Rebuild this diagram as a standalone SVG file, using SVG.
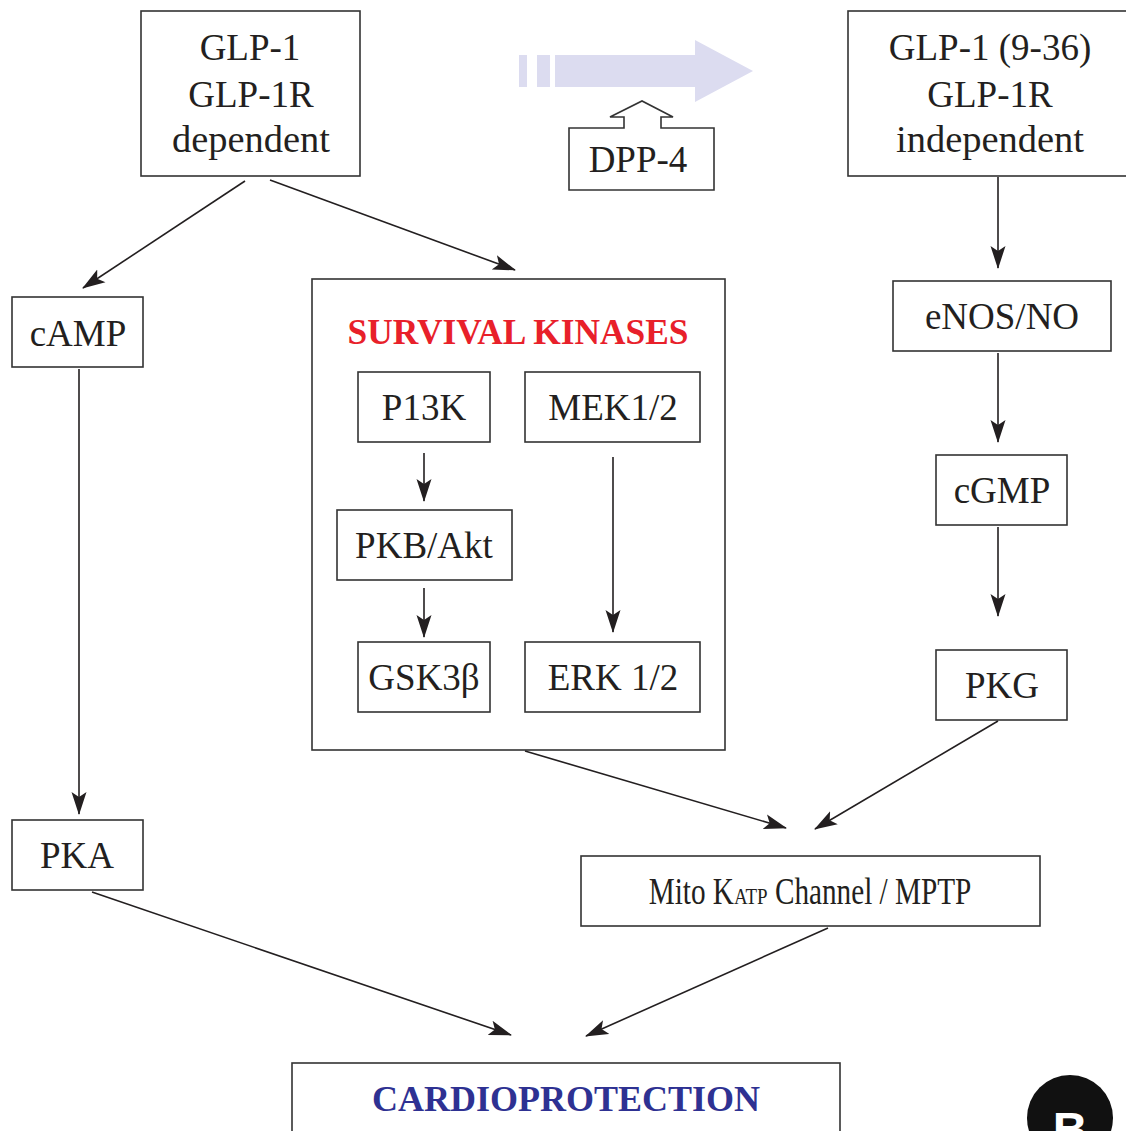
<svg xmlns="http://www.w3.org/2000/svg" width="1126" height="1131" viewBox="0 0 1126 1131">
<defs>
<style>
.box{fill:#fff;stroke:#333;stroke-width:1.6}
.t{font-family:"Liberation Serif","Times New Roman",serif;font-size:37px;fill:#231f20;text-anchor:middle}
.conn line{stroke:#231f20;stroke-width:1.6;marker-end:url(#ah)}
</style>
<marker id="ah" markerUnits="userSpaceOnUse" markerWidth="24" markerHeight="18" viewBox="0 0 24 18" refX="22" refY="9" orient="auto">
<path d="M0,1.5 L23,9 L0,16.5 L5,9 Z" fill="#231f20"/>
</marker>
</defs>
<rect width="1126" height="1131" fill="#fff"/>

<g id="dpp-arrow">
<rect x="519" y="55" width="8" height="32" fill="#dcdcf0"/>
<rect x="537" y="55" width="13" height="32" fill="#dcdcf0"/>
<polygon points="555,55 695,55 695,40 753,71 695,102 695,87 555,87" fill="#dcdcf0"/>
</g>

<g id="dpp4">
<path d="M569,190 L569,128 L624,128 L624,117 L610,117 L642,101 L673,117 L661,117 L661,128 L714,128 L714,190 Z" class="box"/>
<text x="638" y="172" class="t">DPP-4</text>
</g>

<g id="glp1-dep">
<rect x="141" y="11" width="219" height="165" class="box"/>
<text x="250" y="60" class="t">GLP-1</text>
<text x="251" y="107" class="t">GLP-1R</text>
<text x="251" y="152" class="t" textLength="158" lengthAdjust="spacingAndGlyphs">dependent</text>
</g>

<g id="glp1-indep">
<rect x="848" y="11" width="290" height="165" class="box"/>
<text x="990" y="60" class="t">GLP-1 (9-36)</text>
<text x="990" y="107" class="t">GLP-1R</text>
<text x="990" y="152" class="t" textLength="188" lengthAdjust="spacingAndGlyphs">independent</text>
</g>

<g id="camp">
<rect x="12" y="297" width="131" height="70" class="box"/>
<text x="78" y="346" class="t">cAMP</text>
</g>

<g id="survival">
<rect x="312" y="279" width="413" height="471" class="box"/>
<text x="518" y="344" class="t" style="fill:#e8202a;font-weight:bold;font-size:35px" textLength="341" lengthAdjust="spacingAndGlyphs">SURVIVAL KINASES</text>
</g>

<g id="p13k">
<rect x="358" y="372" width="132" height="70" class="box"/>
<text x="424" y="420" class="t">P13K</text>
</g>

<g id="mek">
<rect x="525" y="372" width="175" height="70" class="box"/>
<text x="613" y="420" class="t">MEK1/2</text>
</g>

<g id="pkb">
<rect x="337" y="510" width="175" height="70" class="box"/>
<text x="424" y="558" class="t">PKB/Akt</text>
</g>

<g id="gsk">
<rect x="358" y="642" width="132" height="70" class="box"/>
<text x="424" y="690" class="t">GSK3β</text>
</g>

<g id="erk">
<rect x="525" y="642" width="175" height="70" class="box"/>
<text x="613" y="690" class="t">ERK 1/2</text>
</g>

<g id="enos">
<rect x="893" y="281" width="218" height="70" class="box"/>
<text x="1002" y="329" class="t">eNOS/NO</text>
</g>

<g id="cgmp">
<rect x="936" y="455" width="131" height="70" class="box"/>
<text x="1002" y="503" class="t">cGMP</text>
</g>

<g id="pkg">
<rect x="936" y="650" width="131" height="70" class="box"/>
<text x="1002" y="698" class="t">PKG</text>
</g>

<g id="pka">
<rect x="12" y="820" width="131" height="70" class="box"/>
<text x="77" y="868" class="t">PKA</text>
</g>

<g id="mito">
<rect x="581" y="856" width="459" height="70" class="box"/>
<text transform="translate(810,904) scale(0.79,1)" class="t">Mito K<tspan style="font-size:24px">ATP</tspan> Channel / MPTP</text>
</g>

<g id="cardio">
<rect x="292" y="1063" width="548" height="80" class="box"/>
<text x="566" y="1111" class="t" style="fill:#2e3192;font-weight:bold;font-size:36px" textLength="388" lengthAdjust="spacingAndGlyphs">CARDIOPROTECTION</text>
</g>

<g id="badge">
<circle cx="1070" cy="1118" r="43" fill="#111"/>
<text x="1070" y="1146" style="font-family:'Liberation Sans',Arial,sans-serif;font-weight:bold;font-size:48px;fill:#fff;text-anchor:middle">B</text>
</g>

<g class="conn" id="connectors">
<line x1="245" y1="181" x2="83" y2="288"/>
<line x1="270" y1="180" x2="515" y2="270"/>
<line x1="79" y1="369" x2="79" y2="814"/>
<line x1="998" y1="177" x2="998" y2="268"/>
<line x1="998" y1="353" x2="998" y2="442"/>
<line x1="998" y1="527" x2="998" y2="616"/>
<line x1="424" y1="453" x2="424" y2="501"/>
<line x1="424" y1="588" x2="424" y2="637"/>
<line x1="613" y1="457" x2="613" y2="632"/>
<line x1="525" y1="751" x2="786" y2="828"/>
<line x1="998" y1="721" x2="815" y2="829"/>
<line x1="92" y1="892" x2="511" y2="1035"/>
<line x1="828" y1="928" x2="586" y2="1036"/>
</g>
</svg>
